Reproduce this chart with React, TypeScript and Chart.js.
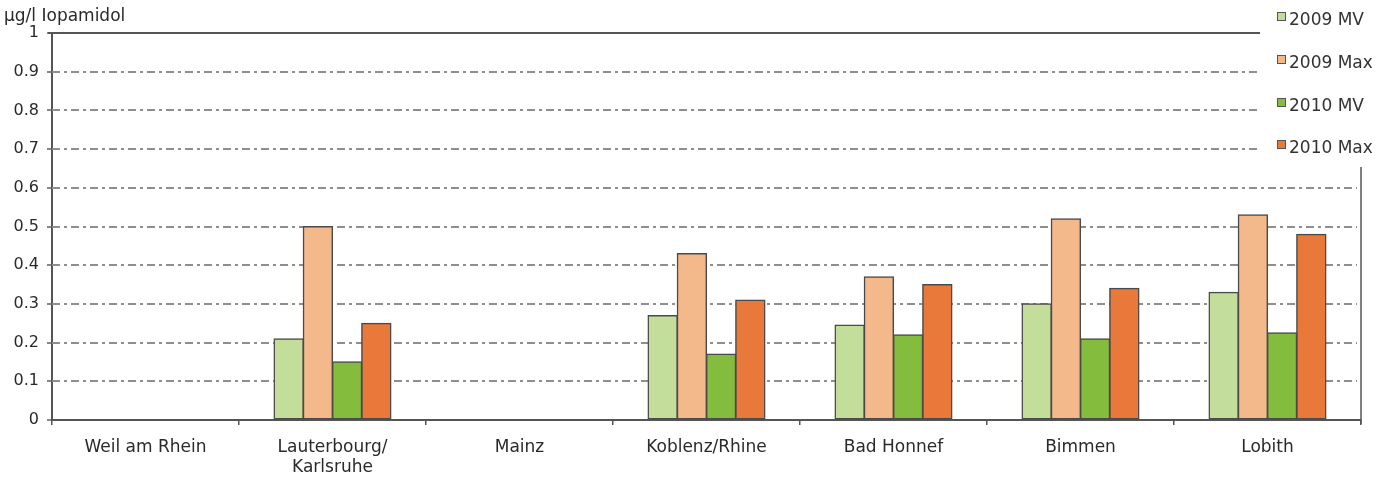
import React, { useEffect, useRef } from "react";
import { Chart, registerables } from "chart.js";

Chart.register(...registerables);

const categories: (string | string[])[] = [
  "Weil am Rhein",
  ["Lauterbourg/", "Karlsruhe"],
  "Mainz",
  "Koblenz/Rhine",
  "Bad Honnef",
  "Bimmen",
  "Lobith",
];
const mv2009: (number | null)[] = [null, 0.21, null, 0.27, 0.245, 0.30, 0.33];
const max2009: (number | null)[] = [null, 0.50, null, 0.43, 0.37, 0.52, 0.53];
const mv2010: (number | null)[] = [null, 0.15, null, 0.17, 0.22, 0.21, 0.225];
const max2010: (number | null)[] = [null, 0.25, null, 0.31, 0.35, 0.34, 0.48];
const seriesNames = ["2009 MV", "2009 Max", "2010 MV", "2010 Max"];
const seriesColors = ["#c3de9a", "#f4b98a", "#84bd3e", "#e8793a"];
const yAxisTitle = "µg/l Iopamidol";
const FONT = "'DejaVu Sans', sans-serif";

const overlayPlugin = {
  id: "overlay",
  beforeDatasetsDraw(chart: any) {
    const { ctx, chartArea, scales } = chart;
    const y = scales.y;
    ctx.save();
    ctx.strokeStyle = "#8e8e8e";
    ctx.lineWidth = 2;
    ctx.setLineDash([8, 4, 3, 4]);
    for (let i = 1; i <= 9; i++) {
      const py = Math.round(y.getPixelForValue(i / 10));
      const endX = py < 168 ? 1260 : chartArea.right - 4;
      ctx.beginPath();
      ctx.moveTo(chartArea.left, py);
      ctx.lineTo(endX, py);
      ctx.stroke();
    }
    ctx.setLineDash([]);
    ctx.strokeStyle = "#555";
    ctx.lineWidth = 2;
    const top = y.getPixelForValue(1);
    ctx.beginPath();
    ctx.moveTo(chartArea.left - 4, top);
    ctx.lineTo(1260, top);
    ctx.stroke();
    ctx.lineWidth = 1.5;
    ctx.beginPath();
    ctx.moveTo(chartArea.right, 167);
    ctx.lineTo(chartArea.right, chartArea.bottom + 4);
    ctx.stroke();
    ctx.restore();
  },
  afterDraw(chart: any) {
    const { ctx } = chart;
    ctx.save();
    ctx.fillStyle = "#2a2a2a";
    ctx.font = `17px ${FONT}`;
    ctx.textBaseline = "middle";
    ctx.textAlign = "left";
    ctx.fillText(yAxisTitle, 4, 17);
    const rows = [20, 63, 106, 148];
    seriesNames.forEach((name, i) => {
      const cy = rows[i];
      ctx.fillStyle = seriesColors[i];
      ctx.fillRect(1277.5, cy - 7.5, 8, 8);
      ctx.strokeStyle = "#555";
      ctx.lineWidth = 1;
      ctx.strokeRect(1277.5, cy - 7.5, 8, 8);
      ctx.fillStyle = "#333";
      ctx.fillText(name, 1289, cy + 1);
    });
    ctx.restore();
  },
};

export default function App() {
  const ref = useRef<HTMLCanvasElement>(null);
  useEffect(() => {
    const datasets = [mv2009, max2009, mv2010, max2010].map((d, i) => ({
      label: seriesNames[i],
      data: d,
      backgroundColor: seriesColors[i],
      borderColor: "#4a4a4a",
      borderWidth: 1.5,
      borderSkipped: false,
      inflateAmount: 0.6,
      categoryPercentage: 0.625,
      barPercentage: 1,
    }));
    const chart = new Chart(ref.current!, {
      type: "bar",
      data: { labels: categories as any, datasets },
      plugins: [overlayPlugin],
      options: {
        animation: false,
        responsive: false,
        layout: { padding: { left: 0, top: 33, right: 33, bottom: 0 } },
        plugins: { legend: { display: false }, tooltip: { enabled: false } },
        scales: {
          x: {
            grid: {
              offset: true,
              drawOnChartArea: false,
              tickLength: 5,
              color: "#555",
              lineWidth: 1.5,
            },
            border: { display: true, color: "#555", width: 2 },
            ticks: {
              color: "#2a2a2a",
              font: { family: FONT, size: 17, lineHeight: 1.15 },
              padding: 13,
              maxRotation: 0,
              autoSkip: false,
            },
            afterFit(scale: any) {
              scale.height = 57;
            },
          },
          y: {
            min: 0,
            max: 1,
            ticks: {
              stepSize: 0.1,
              color: "#2a2a2a",
              font: { family: FONT, size: 16 },
              padding: 8,
              callback: (v: any) => String(Math.round(Number(v) * 10) / 10),
            },
            grid: {
              drawOnChartArea: false,
              tickLength: 5,
              color: "#888",
              lineWidth: 2,
            },
            border: { display: true, color: "#555", width: 2 },
            afterFit(scale: any) {
              scale.width = 52;
            },
          },
        },
      },
    });
    return () => chart.destroy();
  }, []);
  return (
    <div style={{ position: "fixed", left: 0, top: 0, width: 1394, height: 477, background: "#fff" }}>
      <canvas ref={ref} width={1394} height={477} style={{ width: 1394, height: 477 }} />
    </div>
  );
}
